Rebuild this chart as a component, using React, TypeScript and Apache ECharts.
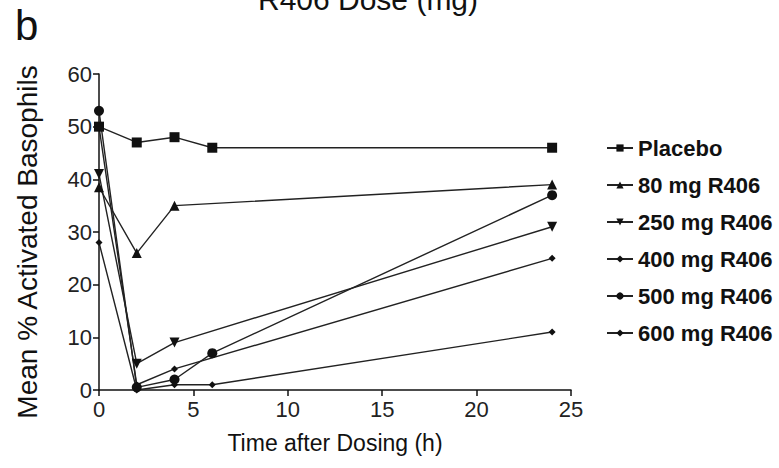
import React, { useEffect, useRef } from "react";
import * as echarts from "echarts";

const seriesNames = ["Placebo", "80 mg R406", "250 mg R406", "400 mg R406", "500 mg R406", "600 mg R406"];
const symbols = ["rect", "triangle", "path://M0,0 L10,0 L5,9 Z", "diamond", "circle", "diamond"];
const symbolSizes = [10, 10, 10, 7, 10, 7];

const placebo: [number, number][] = [[0, 50], [2, 47], [4, 48], [6, 46], [24, 46]];
const mg80: [number, number][] = [[0, 38.5], [2, 26], [4, 35], [24, 39]];
const mg250: [number, number][] = [[0, 41], [2, 5], [4, 9], [24, 31]];
const mg400: [number, number][] = [[0, 50], [2, 1], [4, 4], [24, 25]];
const mg500: [number, number][] = [[0, 53], [2, 0.5], [4, 2], [6, 7], [24, 37]];
const mg600: [number, number][] = [[0, 28], [2, 0], [4, 1], [6, 1], [24, 11]];
const allData = [placebo, mg80, mg250, mg400, mg500, mg600];

const FONT = "'Liberation Sans', Arial, sans-serif";

export default function App() {
  const ref = useRef<HTMLDivElement>(null);
  useEffect(() => {
    const chart = echarts.init(ref.current!, null, { renderer: "svg" });
    chart.setOption({
      animation: false,
      backgroundColor: "#fff",
      grid: { left: 99, right: 208, top: 74, bottom: 78 },
      graphic: [
        { type: "text", left: 15, top: 4, style: { text: "b", font: `42px ${FONT}`, fill: "#111" } },
        { type: "text", x: 368, y: 14, style: { text: "R406 Dose (mg)", font: `30px ${FONT}`, fill: "#111", textAlign: "center", textVerticalAlign: "bottom" } },
        { type: "text", x: 27, y: 242, rotation: Math.PI / 2, style: { text: "Mean % Activated Basophils", font: `28px ${FONT}`, fill: "#111", textAlign: "center", textVerticalAlign: "middle" } },
      ],
      legend: {
        orient: "vertical",
        left: 601,
        top: 130,
        itemGap: 11,
        itemWidth: 26,
        itemHeight: 9,
        textStyle: { fontFamily: FONT, fontSize: 22, fontWeight: "bold", color: "#111", lineHeight: 26 },
        data: seriesNames,
      },
      xAxis: {
        type: "value",
        min: 0,
        max: 25,
        interval: 5,
        name: "Time after Dosing (h)",
        nameLocation: "middle",
        nameGap: 41,
        nameTextStyle: { fontFamily: FONT, fontSize: 23, color: "#111" },
        axisLine: { lineStyle: { color: "#111", width: 1.5 } },
        axisTick: { length: 6, lineStyle: { color: "#111", width: 1.5 } },
        axisLabel: { fontFamily: FONT, fontSize: 22, color: "#222", margin: 8 },
        splitLine: { show: false },
      },
      yAxis: {
        type: "value",
        min: 0,
        max: 60,
        interval: 10,
        axisLine: { show: true, lineStyle: { color: "#111", width: 1.5 } },
        axisTick: { show: true, length: 6, lineStyle: { color: "#111", width: 1.5 } },
        axisLabel: { fontFamily: FONT, fontSize: 22, color: "#222", margin: 7 },
        splitLine: { show: false },
      },
      series: seriesNames.map((name, i) => ({
        name,
        type: "line",
        data: allData[i],
        symbol: symbols[i],
        symbolSize: symbolSizes[i],
        showAllSymbol: true,
        lineStyle: { color: "#222", width: 1.4 },
        itemStyle: { color: "#111" },
        clip: false,
      })),
    });
    return () => chart.dispose();
  }, []);
  return <div ref={ref} style={{ width: 779, height: 468, position: "absolute", left: 0, top: 0 }} />;
}
